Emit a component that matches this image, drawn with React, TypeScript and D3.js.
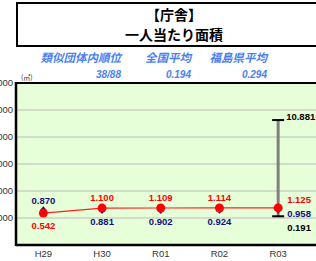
import React from "react";
import * as d3 from "d3";

const categories = ["H29", "H30", "R01", "R02", "R03"];
const cityValues = [0.542, 1.1, 1.109, 1.114, 1.125];
const groupAverage = [0.87, 0.881, 0.902, 0.924, 0.958];
const rangeCategory = "R03";
const rangeMax = 10.881;
const rangeMin = 0.191;
const yTicks = [0, 3, 6, 9, 12, 15];
const yDomain = [-3, 15];

const titleLines = ["【庁舎】", "一人当たり面積"];
const infoHeads = ["類似団体内順位", "全国平均", "福島県平均"];
const infoValues = ["38/88", "0.194", "0.294"];

const JP = "'Noto Sans CJK JP', sans-serif";
const NUM = "'Liberation Sans', Arial, sans-serif";

export default function App() {
  const width = 316;
  const height = 261;
  const plot = { left: 16, right: 320, top: 83, bottom: 245 };

  const x = d3.scaleBand().domain(categories).range([14, 307.5]);
  const y = d3.scaleLinear().domain(yDomain).range([plot.bottom, plot.top]);
  const cx = (c: string) => (x(c) ?? 0) + x.bandwidth() / 2;
  const fmt = d3.format(".3f");

  const line = d3
    .line<number>()
    .x((_, i) => cx(categories[i]))
    .y((d) => y(d));

  const infoRight = [121, 191, 267];
  const last = categories.length - 1;

  return (
    <svg
      width={width}
      height={height}
      style={{ position: "absolute", left: 0, top: 0 }}
    >
      <rect width={width} height={height} fill="#fff" />
      {/* title box */}
      <rect x={17} y={3} width={314} height={43} fill="#fff" stroke="#000" strokeWidth={2} />
      {titleLines.map((t, i) => (
        <text
          key={t}
          x={174}
          y={20 + i * 20}
          textAnchor="middle"
          fontFamily={JP}
          fontWeight="bold"
          fontSize={14}
          fill="#000"
        >
          {t}
        </text>
      ))}
      {infoHeads.map((h, i) => (
        <g key={h} fontStyle="italic" fontWeight="bold" fill="#4a80f5">
          <text x={infoRight[i]} y={62} textAnchor="end" fontFamily={JP} fontSize={11.5}>
            {h}
          </text>
          <text x={infoRight[i]} y={78} textAnchor="end" fontFamily={NUM} fontSize={10}>
            {infoValues[i]}
          </text>
        </g>
      ))}
      <text x={21} y={80} fontFamily={JP} fontSize={7} fill="#333">
        (㎡)
      </text>

      {/* plot area */}
      <rect
        x={plot.left}
        y={plot.top}
        width={plot.right - plot.left}
        height={plot.bottom - plot.top}
        fill="#e6ffd8"
      />
      {yTicks.map((t) => (
        <g key={t}>
          <line
            x1={plot.left}
            x2={plot.right}
            y1={y(t)}
            y2={y(t)}
            stroke="#bcbcbc"
            strokeWidth={1}
          />
          <text
            x={13}
            y={y(t)}
            dy="0.35em"
            textAnchor="end"
            fontFamily={NUM}
            fontSize={9.5}
            fill="#333"
          >
            {fmt(t)}
          </text>
        </g>
      ))}
      <line x1={plot.left} x2={plot.right} y1={plot.top} y2={plot.top} stroke="#000" strokeWidth={2} />
      <line x1={plot.left} x2={plot.right} y1={plot.bottom} y2={plot.bottom} stroke="#000" strokeWidth={2.5} />
      <line x1={plot.left} x2={plot.left} y1={plot.top - 1} y2={plot.bottom + 1} stroke="#000" strokeWidth={2.5} />

      {categories.map((c) => (
        <text
          key={c}
          x={cx(c)}
          y={257}
          textAnchor="middle"
          fontFamily={NUM}
          fontSize={9.5}
          fill="#333"
        >
          {c}
        </text>
      ))}

      {/* min-max range */}
      <line
        x1={cx(rangeCategory)}
        x2={cx(rangeCategory)}
        y1={y(rangeMax)}
        y2={y(rangeMin)}
        stroke="#808080"
        strokeWidth={3}
      />
      {[rangeMax, rangeMin].map((v) => (
        <line
          key={v}
          x1={cx(rangeCategory) - 6}
          x2={cx(rangeCategory) + 6}
          y1={y(v)}
          y2={y(v)}
          stroke="#000"
          strokeWidth={2}
        />
      ))}

      {/* group average */}
      {groupAverage.map((v, i) => {
        const px = cx(categories[i]);
        const py = y(v);
        return (
          <path
            key={i}
            d={`M${px},${py - 4}L${px + 3.5},${py}L${px},${py + 4}L${px - 3.5},${py}Z`}
            fill="#101080"
          />
        );
      })}

      {/* city values */}
      <path d={line(cityValues) ?? ""} fill="none" stroke="#ff2020" strokeWidth={1.2} />
      {cityValues.map((v, i) => (
        <circle key={i} cx={cx(categories[i])} cy={y(v)} r={4.5} fill="#ff0000" />
      ))}

      {/* labels */}
      <g fontFamily={NUM} fontWeight="bold" fontSize={9.5}>
        {cityValues.map((v, i) => {
          const px = cx(categories[i]);
          const py = y(v);
          if (i === last)
            return (
              <text key={i} x={px + 9} y={py - 8} dy="0.35em" fill="#ff0000">
                {fmt(v)}
              </text>
            );
          return (
            <text
              key={i}
              x={px}
              y={i === 0 ? py + 13 : py - 10}
              dy="0.35em"
              textAnchor="middle"
              fill="#ff0000"
            >
              {fmt(v)}
            </text>
          );
        })}
        {groupAverage.map((v, i) => {
          const px = cx(categories[i]);
          const py = y(v);
          if (i === last)
            return (
              <text key={i} x={px + 9} y={py + 4.5} dy="0.35em" fill="#101080">
                {fmt(v)}
              </text>
            );
          return (
            <text
              key={i}
              x={px}
              y={i === 0 ? py - 9 : py + 12}
              dy="0.35em"
              textAnchor="middle"
              fill="#101080"
            >
              {fmt(v)}
            </text>
          );
        })}
        <text x={cx(rangeCategory) + 8} y={y(rangeMax) - 3} dy="0.35em" fill="#000">
          {fmt(rangeMax)}
        </text>
        <text x={cx(rangeCategory) + 9} y={y(rangeMin) + 11} dy="0.35em" fill="#000">
          {fmt(rangeMin)}
        </text>
      </g>
    </svg>
  );
}
